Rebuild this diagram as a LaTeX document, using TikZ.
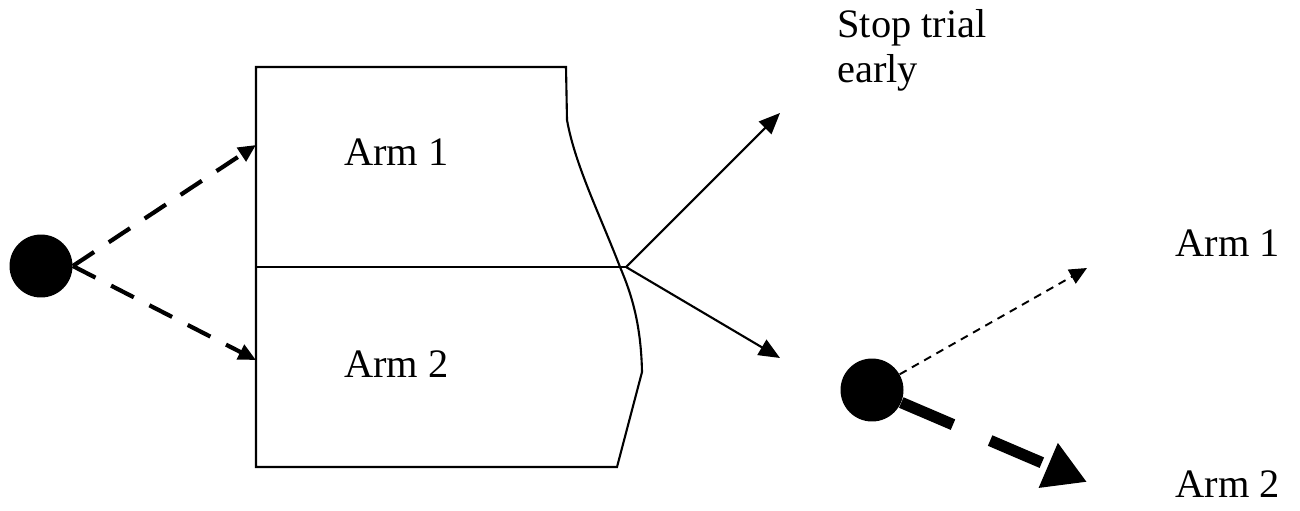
\documentclass[tikz,border=0pt]{standalone}
\usepackage{fontspec}
\setmainfont{Liberation Serif}
\usetikzlibrary{arrows.meta}
\tikzset{
  lbl/.style={anchor=base west, inner sep=0pt, font=\fontsize{23}{25.5}\selectfont},
  dot/.style={circle, fill=black, inner sep=0pt, minimum size=1.26cm},
  outline/.style={line width=1.2pt, line join=miter},
  dasharrow/.style={line width=2.4pt, dash pattern=on 14.5pt off 10pt, -{Triangle[length=10pt,width=9pt]}},
  solidarrow/.style={line width=1.2pt, -{Triangle[length=12pt,width=10pt]}},
  thinarrow/.style={line width=1.1pt, dash pattern=on 4.5pt off 3.5pt, -{Triangle[length=10pt,width=9pt]}},
  thickarrow/.style={line width=6.5pt, dash pattern=on 32pt off 23pt, -{Triangle[length=24pt,width=26pt]}},
}
\begin{document}
\begin{tikzpicture}[x=0.02cm, y=-0.02cm]
\useasboundingbox (0,0) rectangle (1300,510);
% box
\coordinate (mid) at (626,267);
\draw[outline] (256,67) -- (566,67) -- (567,120) .. controls (575,165) and (600,215) .. (620,267)
  .. controls (632,295) and (641,325) .. (642,372) -- (617,467) -- (256,467) -- cycle;
\draw[outline] (256,267) -- (mid);
\node[lbl] (arm1) at (344,165) {Arm 1};
\node[lbl] (arm2) at (344,377) {Arm 2};
% left dot
\node[dot] (c1) at (41,266) {};
\coordinate (t1) at (256,145);
\coordinate (t2) at (256,360);
\draw[dasharrow] (c1.east) -- (t1);
\draw[dasharrow] (c1.east) -- (t2);
% solid arrows
\coordinate (s1) at (780,113);
\coordinate (s2) at (780,358);
\draw[solidarrow] (mid) -- (s1);
\draw[solidarrow] (mid) -- (s2);
\node[lbl] (stop1) at (837,38) {Stop trial};
\node[lbl] (stop2) at (837,83) {early};
% right dot
\node[dot] (c2) at (872,390) {};
\coordinate (r1) at (1087,268);
\coordinate (r2) at (1087,482);
\draw[thinarrow] (c2) -- (r1);
\draw[thickarrow] (c2) -- (r2);
\node[lbl] (rarm1) at (1175,256) {Arm 1};
\node[lbl] (rarm2) at (1175,497) {Arm 2};
\end{tikzpicture}
\end{document}
